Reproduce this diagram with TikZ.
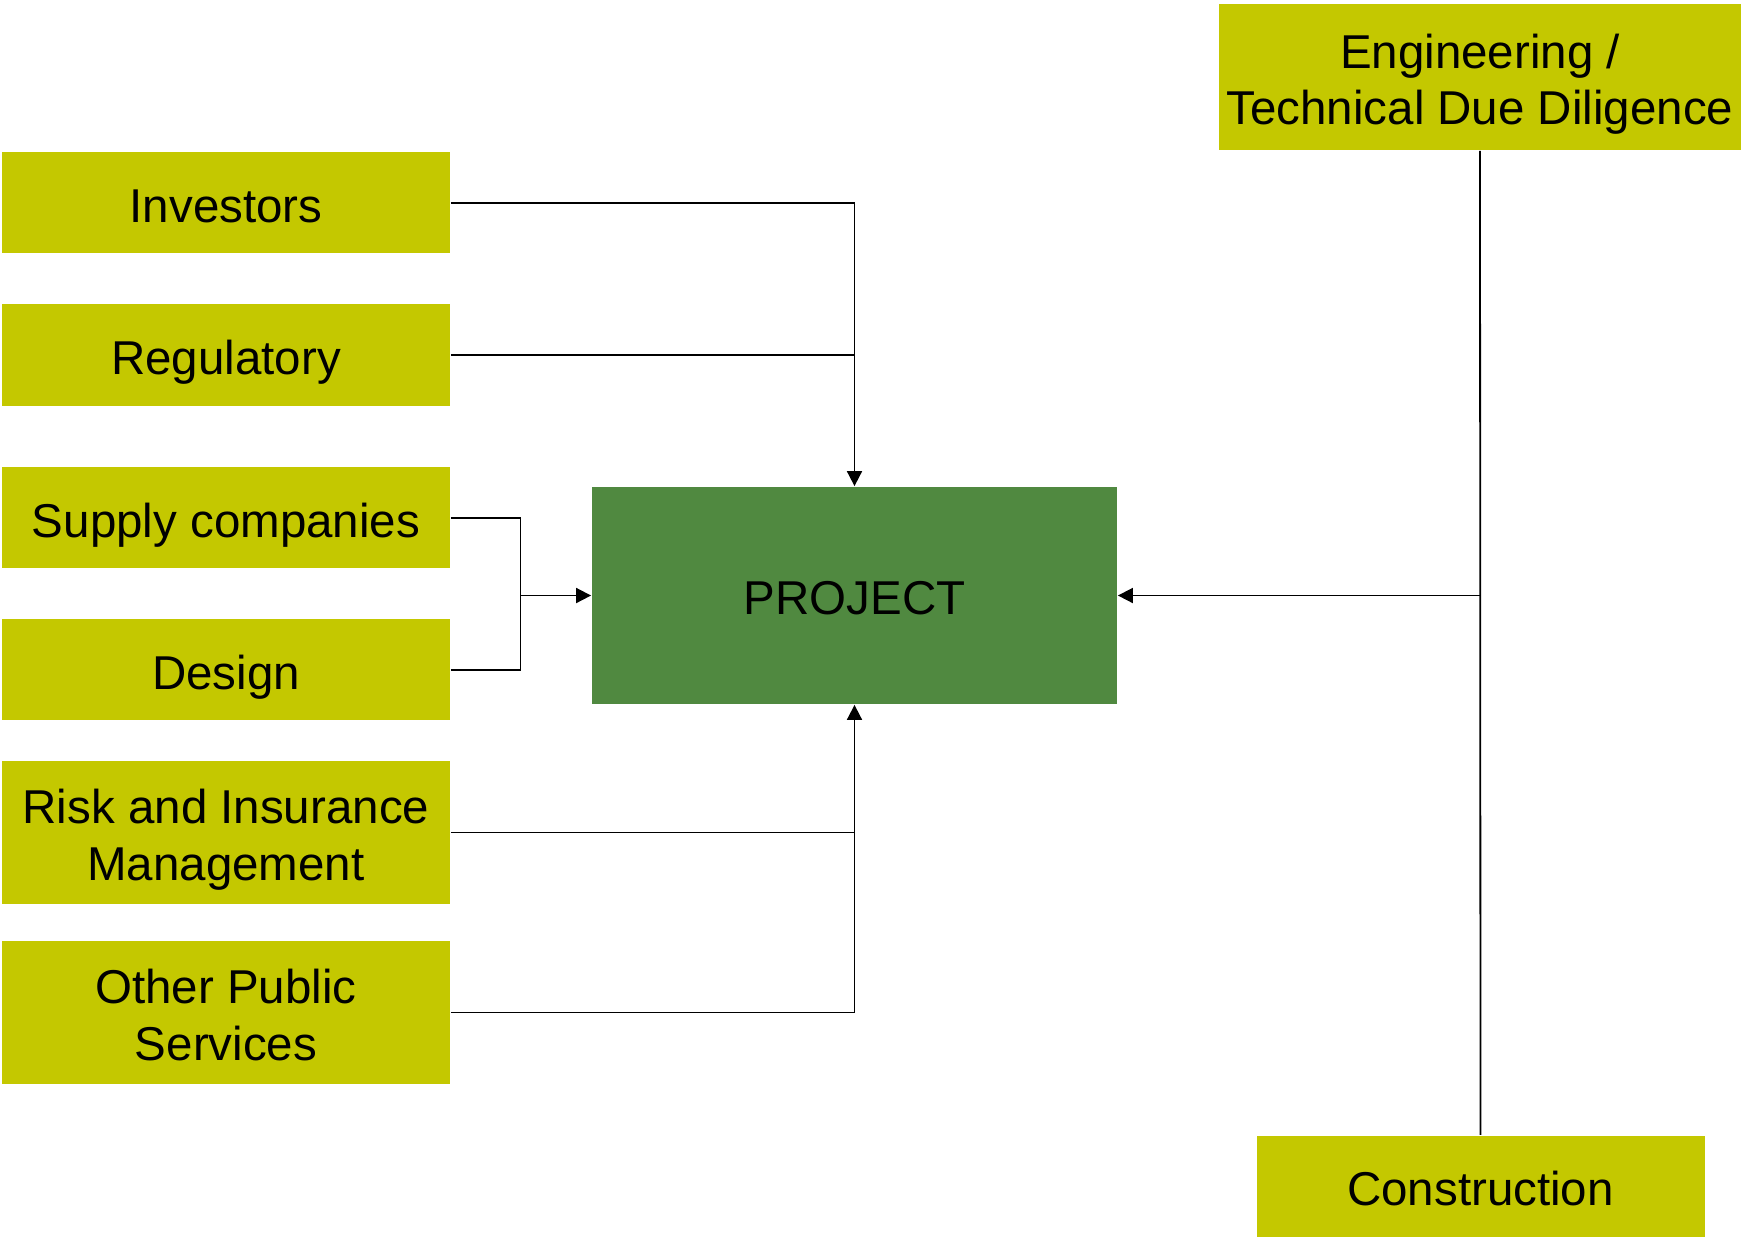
\documentclass[tikz,border=0pt]{standalone}
\usepackage{fontspec}
\setmainfont{Liberation Sans}
\usetikzlibrary{arrows.meta}

\definecolor{boxyellow}{RGB}{196,200,0}
\definecolor{projgreen}{RGB}{80,137,64}

\tikzset{
  label text/.style={align=center, inner sep=0pt,
    font=\fontsize{23.75}{28.25}\selectfont,
    execute at begin node={\rule{0pt}{24.8pt}},
    execute at end node={\rule[-5.5pt]{0pt}{5.5pt}}},
  box/.style={label text, fill=boxyellow,
    minimum width=224pt, minimum height=50.75pt},
  tallbox/.style={box, minimum height=71.5pt,
    text height=53.05pt, text depth=5.5pt},
  project/.style={label text, fill=projgreen,
    minimum width=262.5pt, minimum height=108.5pt},
  arr/.style={-{Triangle[length=7.5pt,width=7.5pt]}},
}

\begin{document}
\begin{tikzpicture}[x=0.5pt, y=-0.5pt, line width=0.9pt]
            \useasboundingbox (0,0) rectangle (1742,1239);

            % Draw the project box
            \node[project] (proj) at (854.5,595.5) {PROJECT};

            % Draw the boxes on the left
            \node[box] (inv) at (226,202.7) {Investors};
            \node[box] (reg) at (226,354.8) {Regulatory};
            \node[box] (sup) at (226,517.7) {Supply companies};
            \node[box] (des) at (226,669.7) {Design};
            \node[tallbox] (risk) at (226,832.5) {Risk and Insurance\\Management};
            \node[tallbox] (other) at (226,1012.5) {Other Public\\Services};

            % Draw the boxes on the right
            \node[tallbox, minimum width=261pt, minimum height=73pt] (eng) at (1480,77)
              {Engineering /\\Technical Due Diligence};
            \node[box] (con) at (1480.5,1186.5) {Construction};

            % Join points
            \coordinate (topjoin) at (proj.north |- reg.east);
            \coordinate (leftjoin) at (520.5,595.5);
            \coordinate (lowjoin) at (proj.south |- risk.east);
            \coordinate (rightjoin) at (eng.south |- proj.east);

            % Draw the connectors from above
            \draw[arr] (inv.east) -| (proj.north);
            \draw (reg.east) -- (topjoin);

            % Draw the connectors from the left
            \draw (sup.east) -| (leftjoin);
            \draw (des.east) -| (leftjoin);
            \draw[arr] (leftjoin) -- (proj.west);

            % Draw the connectors from below
            \draw[arr] (other.east) -| (proj.south);
            \draw (risk.east) -- (lowjoin);

            % Draw the connectors from the right
            \draw (eng.south) -- (con.north);
            \draw[arr] (rightjoin) -- (proj.east);
        \end{tikzpicture}
\end{document}
